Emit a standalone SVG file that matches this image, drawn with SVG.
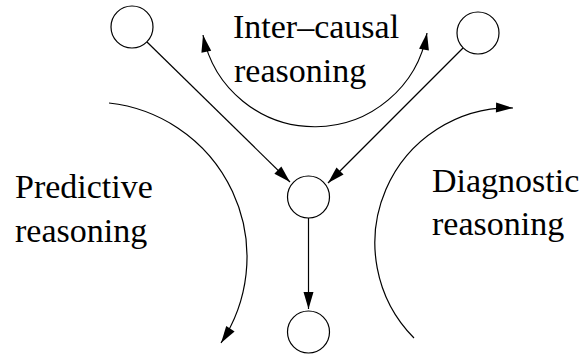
<svg xmlns="http://www.w3.org/2000/svg" width="587" height="356" viewBox="0 0 587 356">
<style>
.node{fill:#fff;stroke:#000;stroke-width:1.2}
.edge{fill:none;stroke:#000;stroke-width:1.2}
text{font-family:'Liberation Serif','Times New Roman',serif;font-size:34px;fill:#000}
</style>
<defs>
<marker id="ah" markerUnits="userSpaceOnUse" markerWidth="18" markerHeight="12" refX="17" refY="5" orient="auto-start-reverse" overflow="visible">
<path d="M0,0 L17,5 L0,10 z" fill="#000"/>
</marker>
</defs>
<rect width="587" height="356" fill="#fff"/>
<g id="connectors">
<line class="edge" x1="147" y1="42" x2="290" y2="182" marker-end="url(#ah)"/>
<line class="edge" x1="463" y1="48" x2="328" y2="183" marker-end="url(#ah)"/>
<line class="edge" x1="308.5" y1="218" x2="308.5" y2="309" marker-end="url(#ah)"/>
<path class="edge" d="M203,35 A114,114 0 0 0 427,33" marker-start="url(#ah)" marker-end="url(#ah)"/>
<path class="edge" d="M109,103 A155,155 0 0 1 221,343" marker-end="url(#ah)"/>
<path class="edge" d="M414,338 A135,135 0 0 1 513,108" marker-end="url(#ah)"/>
</g>
<g id="n1"><circle class="node" cx="132" cy="27" r="21"/></g>
<g id="n2"><circle class="node" cx="478" cy="33" r="21"/></g>
<g id="n3"><circle class="node" cx="308.5" cy="197" r="21"/></g>
<g id="n4"><circle class="node" cx="308.5" cy="332" r="21"/></g>
<g id="labels">
<text x="233" y="38">Inter–causal</text>
<text x="234" y="82">reasoning</text>
<text x="15" y="198">Predictive</text>
<text x="15" y="242">reasoning</text>
<text x="432" y="192">Diagnostic</text>
<text x="432" y="235">reasoning</text>
</g>
</svg>
